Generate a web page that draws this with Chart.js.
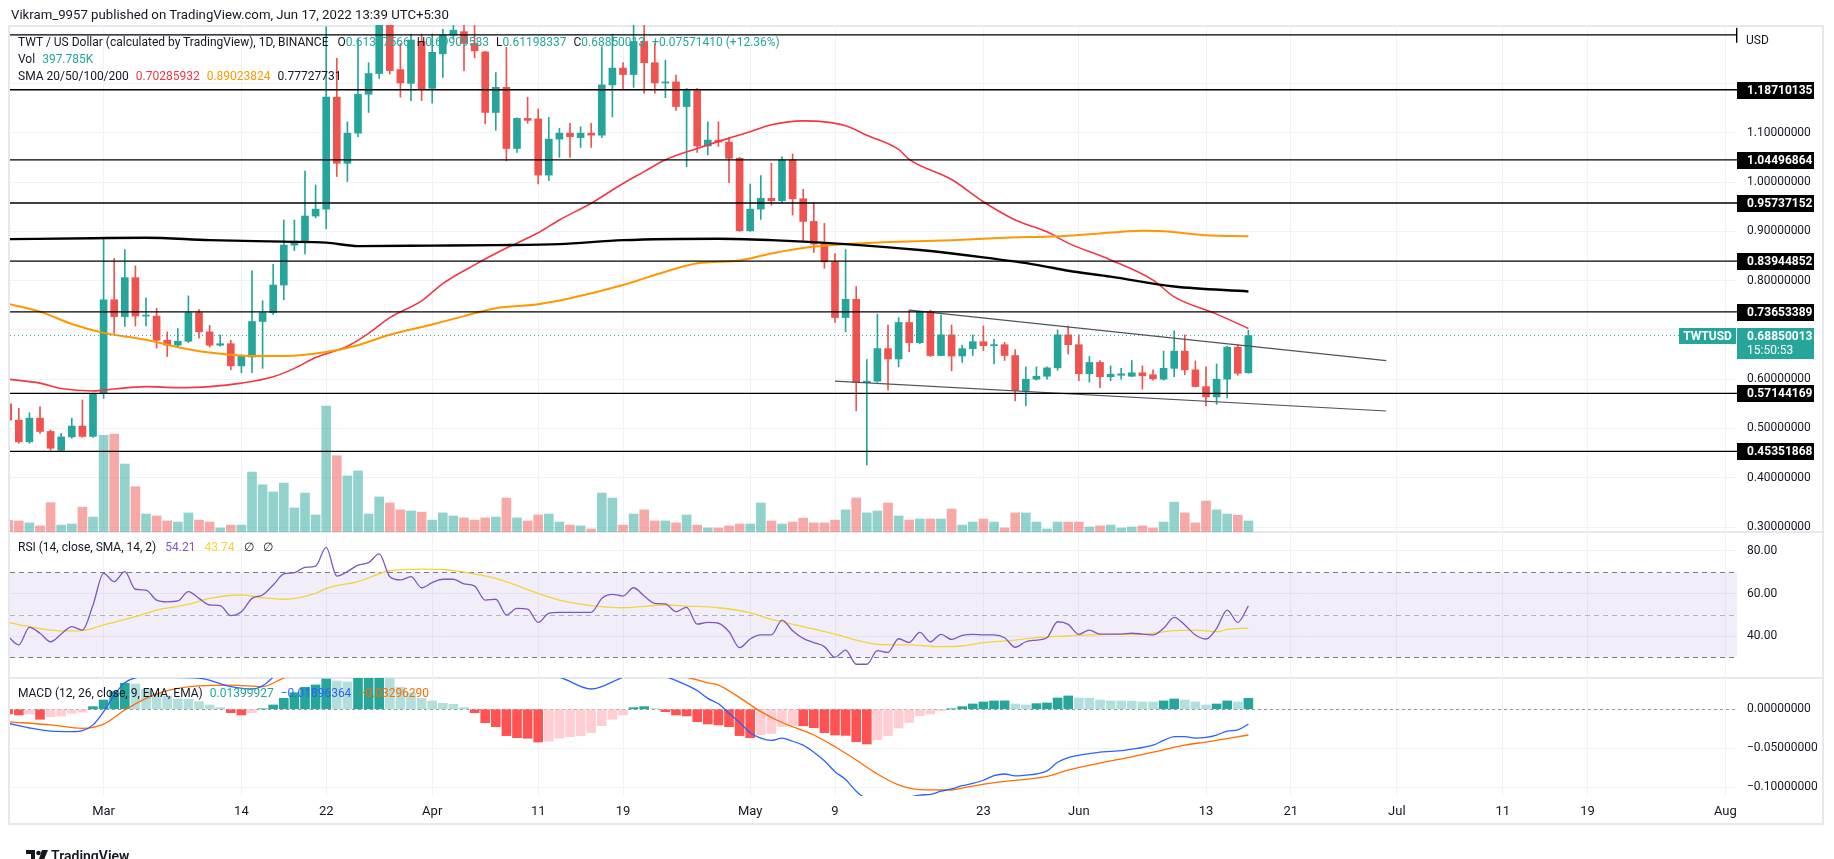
<!DOCTYPE html>
<html>
<head>
<meta charset="utf-8">
<title>TWT / US Dollar</title>
<script src="https://cdn.jsdelivr.net/npm/chart.js@4.4.1/dist/chart.umd.min.js"></script>
<style>
  html, body { margin: 0; padding: 0; background: #fff; }
  #wrap { position: relative; width: 1834px; height: 859px; overflow: hidden; background: #fff;
          font-family: Roboto, "Noto Sans", sans-serif; color: #131722; }
  #wrap canvas { position: absolute; left: 0; top: 0; }
  .txt { position: absolute; white-space: pre; font-size: 12px; line-height: 16px; z-index: 5; }
  .txt span { margin-left: 7px; }
  .txt span.v { margin-left: 0; }
  .rsi span { margin-left: 9px; }
  .frame { position: absolute; left: 8px; top: 25px; width: 1816px; height: 800px;
           border: 2px solid #e6e8ee; box-sizing: border-box; }
  .sep { position: absolute; left: 8px; width: 1816px; height: 2px; background: #e6e8ee; }
  .up { color: #26a69a; }
  .red { color: #f23645; }
  .org { color: #ff9800; }
  .pur { color: #7e57c2; }
  .yel { color: #f2d43c; }
  .blu { color: #2962ff; }
  .ora { color: #ff6d00; }
</style>
</head>
<body>
<div id="wrap">
  <div class="frame"></div>
  <div class="sep" style="top:531px"></div>
  <div class="sep" style="top:677px"></div>
  <canvas id="cPrice" width="1834" height="859"></canvas>
  <canvas id="cRsi" width="1834" height="859"></canvas>
  <canvas id="cMacd" width="1834" height="859"></canvas>

  <div class="txt" style="left:11px; top:7px; font-size:13.2px">Vikram_9957 published on TradingView.com, Jun 17, 2022 13:39 UTC+5:30</div>
  <div class="txt" style="left:18px; top:34px">TWT / US Dollar (calculated by TradingView), 1D, BINANCE<span style="margin-left:9px">O</span><span class="v up">0.61327566</span><span>H</span><span class="v up">0.69909583</span><span>L</span><span class="v up">0.61198337</span><span>C</span><span class="v up">0.68850013</span><span class="up">+0.07571410 (+12.36%)</span></div>
  <div class="txt" style="left:18px; top:51px">Vol<span class="up">397.785K</span></div>
  <div class="txt" style="left:18px; top:68px">SMA 20/50/100/200<span class="red">0.70285932</span><span class="org">0.89023824</span><span>0.77727731</span></div>
  <div class="txt rsi" style="left:18px; top:539px">RSI (14, close, SMA, 14, 2)<span class="pur">54.21</span><span class="yel">43.74</span><span>∅</span><span>∅</span></div>
  <div class="txt" style="left:18px; top:685px">MACD (12, 26, close, 9, EMA, EMA)<span class="up">0.01399927</span><span class="blu">−0.01896364</span><span class="ora">−0.03296290</span></div>
  <div class="txt" style="left:1746px; top:32px">USD</div>
  <div class="txt" style="left:12px; top:832px; font-size:14px; font-weight:600">
    <svg width="22" height="12" style="vertical-align:-1px"><path d="M0 0h9v12H5V4H0z" fill="#131722"/><circle cx="12.5" cy="3" r="2.3" fill="#131722"/><path d="M16 0h6l-5 12h-5z" fill="#131722"/></svg> TradingView</div>
</div>

<script>
// ---- data (day index 0 = 20 Feb 2022, one candle per day up to 17 Jun 2022) ----
const opens = [
  0.550, 0.517, 0.473, 0.521, 0.494, 0.456, 0.483, 0.505, 0.484, 0.571,
  0.761, 0.727, 0.806, 0.728, 0.728, 0.679, 0.669, 0.677, 0.735, 0.696,
  0.669, 0.672, 0.627, 0.645, 0.717, 0.735, 0.791, 0.872, 0.877, 0.931,
  0.945, 1.172, 1.038, 1.099, 1.178, 1.220, 1.330, 1.228, 1.200, 1.285,
  1.190, 1.260, 1.298, 1.305, 1.281, 1.264, 1.141, 1.192, 1.068, 1.129,
  1.128, 1.014, 1.087, 1.099, 1.090, 1.099, 1.095, 1.197, 1.231, 1.218,
  1.285, 1.242, 1.201, 1.203, 1.153, 1.185, 1.073, 1.085, 1.081, 1.048,
  0.901, 0.945, 0.967, 0.962, 1.045, 0.966, 0.920, 0.874, 0.838, 0.725,
  0.762, 0.593, 0.596, 0.662, 0.641, 0.715, 0.674, 0.737, 0.648, 0.690,
  0.647, 0.662, 0.676, 0.668, 0.670, 0.648, 0.577, 0.600, 0.606, 0.623,
  0.690, 0.670, 0.611, 0.634, 0.605, 0.608, 0.606, 0.613, 0.609, 0.600,
  0.622, 0.657, 0.619, 0.585, 0.564, 0.600, 0.665, 0.613
];
const highs = [
  0.560, 0.541, 0.532, 0.544, 0.497, 0.490, 0.521, 0.558, 0.572, 0.886,
  0.845, 0.863, 0.830, 0.765, 0.744, 0.696, 0.703, 0.769, 0.741, 0.709,
  0.690, 0.679, 0.649, 0.820, 0.759, 0.833, 0.923, 0.923, 1.022, 0.994,
  1.315, 1.251, 1.122, 1.291, 1.242, 1.360, 1.360, 1.281, 1.300, 1.300,
  1.300, 1.310, 1.320, 1.320, 1.320, 1.265, 1.222, 1.273, 1.130, 1.172,
  1.148, 1.131, 1.109, 1.119, 1.112, 1.119, 1.274, 1.300, 1.242, 1.320,
  1.320, 1.281, 1.247, 1.217, 1.190, 1.190, 1.122, 1.122, 1.090, 1.050,
  0.996, 1.013, 1.038, 1.051, 1.057, 0.985, 0.958, 0.916, 0.855, 0.863,
  0.788, 0.640, 0.732, 0.710, 0.725, 0.740, 0.738, 0.740, 0.730, 0.710,
  0.669, 0.690, 0.708, 0.681, 0.675, 0.660, 0.625, 0.625, 0.625, 0.700,
  0.708, 0.690, 0.646, 0.638, 0.627, 0.622, 0.638, 0.627, 0.619, 0.657,
  0.698, 0.690, 0.637, 0.625, 0.631, 0.667, 0.670, 0.699
];
const lows = [
  0.500, 0.470, 0.470, 0.490, 0.456, 0.455, 0.480, 0.482, 0.482, 0.561,
  0.693, 0.707, 0.708, 0.708, 0.663, 0.646, 0.666, 0.674, 0.683, 0.665,
  0.667, 0.619, 0.613, 0.613, 0.622, 0.731, 0.761, 0.861, 0.854, 0.927,
  0.905, 1.011, 1.001, 1.092, 1.141, 1.210, 1.219, 1.172, 1.165, 1.165,
  1.160, 1.212, 1.290, 1.226, 1.252, 1.118, 1.105, 1.043, 1.060, 1.119,
  0.996, 1.003, 1.050, 1.050, 1.070, 1.070, 1.090, 1.132, 1.187, 1.192,
  1.180, 1.180, 1.171, 1.145, 1.031, 1.060, 1.055, 1.072, 0.999, 0.900,
  0.900, 0.924, 0.953, 0.958, 0.933, 0.879, 0.857, 0.825, 0.715, 0.696,
  0.536, 0.426, 0.594, 0.578, 0.625, 0.656, 0.672, 0.646, 0.647, 0.617,
  0.634, 0.648, 0.658, 0.631, 0.638, 0.556, 0.546, 0.598, 0.600, 0.618,
  0.651, 0.597, 0.594, 0.583, 0.597, 0.600, 0.605, 0.580, 0.598, 0.598,
  0.605, 0.609, 0.585, 0.546, 0.549, 0.562, 0.608, 0.612
];
const closes = [
  0.517, 0.473, 0.521, 0.494, 0.460, 0.483, 0.505, 0.484, 0.571, 0.761,
  0.727, 0.806, 0.728, 0.730, 0.679, 0.669, 0.677, 0.735, 0.696, 0.669,
  0.672, 0.627, 0.647, 0.717, 0.735, 0.791, 0.872, 0.880, 0.931, 0.945,
  1.172, 1.038, 1.099, 1.178, 1.220, 1.330, 1.226, 1.201, 1.288, 1.189,
  1.263, 1.298, 1.308, 1.281, 1.266, 1.141, 1.192, 1.068, 1.129, 1.125,
  1.014, 1.087, 1.099, 1.092, 1.099, 1.095, 1.197, 1.231, 1.218, 1.285,
  1.242, 1.201, 1.203, 1.153, 1.185, 1.073, 1.085, 1.081, 1.048, 0.901,
  0.945, 0.967, 0.962, 1.045, 0.966, 0.920, 0.874, 0.838, 0.725, 0.762,
  0.593, 0.596, 0.662, 0.641, 0.715, 0.674, 0.737, 0.648, 0.690, 0.647,
  0.662, 0.676, 0.668, 0.670, 0.648, 0.577, 0.600, 0.606, 0.623, 0.690,
  0.670, 0.611, 0.634, 0.605, 0.610, 0.611, 0.613, 0.607, 0.601, 0.622,
  0.657, 0.619, 0.585, 0.564, 0.600, 0.665, 0.612, 0.6885
];
// volume in thousands
const volumes = [
  420, 400, 330, 220, 1060, 250, 290, 900, 540, 3500,
  3540, 2460, 1640, 650, 580, 400, 360, 690, 430, 360,
  145, 250, 250, 2170, 1710, 1450, 1770, 870, 1410, 615,
  4560, 2760, 2030, 2210, 650, 1270, 1050, 800, 760, 720,
  430, 690, 580, 510, 430, 510, 540, 1230, 510, 400,
  615, 650, 360, 250, 220, 110, 1410, 1230, 250, 650,
  800, 400, 400, 330, 615, 250, 145, 145, 220, 290,
  290, 1050, 400, 290, 360, 500, 330, 330, 430, 800,
  1230, 690, 760, 1050, 580, 430, 470, 470, 470, 830,
  250, 360, 470, 360, 145, 690, 690, 360, 110, 360,
  360, 360, 180, 220, 250, 145, 180, 220, 145, 360,
  1080, 690, 330, 1120, 800, 650, 610, 398
];
// moving averages: [day, value]
const sma20 = [
  [0,0.600],[3,0.592],[5,0.581],[8,0.576],[10,0.580],[13,0.585],[16,0.583],[19,0.585],
  [22,0.592],[25,0.605],[27,0.622],[29,0.644],[32,0.667],[34,0.693],[36,0.725],[39,0.759],
  [41,0.794],[44,0.832],[47,0.866],[50,0.897],[52,0.923],[55,0.957],[58,0.997],[60,1.021],
  [62,1.045],[65,1.068],[68,1.089],[70,1.102],[72,1.116],[75,1.124],[77,1.122],[79,1.114],
  [81,1.095],[84,1.066],[85,1.046],[89,1.005],[92,0.960],[95,0.923],[98,0.899],[100,0.876],
  [104,0.842],[108,0.801],[110,0.767],[114,0.732],[117,0.703]
];
const sma100 = [
  [0,0.753],[3,0.737],[6,0.712],[9,0.694],[13,0.680],[16,0.665],[19,0.654],[23,0.647],
  [26,0.647],[30,0.655],[33,0.669],[36,0.690],[40,0.711],[43,0.728],[46,0.744],[50,0.752],
  [53,0.764],[58,0.791],[62,0.818],[65,0.835],[69,0.841],[72,0.855],[76,0.869],[79,0.874],
  [84,0.879],[89,0.882],[94,0.887],[99,0.890],[102,0.894],[107,0.901],[109,0.900],[113,0.892],
  [117,0.890]
];
const sma200 = [
  [0,0.884],[8,0.886],[13,0.887],[19,0.882],[26,0.879],[30,0.877],[33,0.870],[40,0.871],
  [46,0.872],[52,0.874],[58,0.882],[67,0.885],[72,0.882],[79,0.874],[86,0.862],[92,0.847],
  [97,0.832],[100,0.820],[104,0.808],[110,0.788],[117,0.778]
];
const levels = [1.18710135, 1.04496864, 0.95737152, 0.83944852, 0.73653389, 0.57144169, 0.45351868];
const topLevel = 1.2985;
const trendUpper = [[85, 0.740], [130, 0.6375]];
const trendLower = [[78, 0.596], [130, 0.5355]];
const lastPrice = 0.68850013;
const hiddenTicks = [1.2, 1.3, 0.7];

const rsi = [
  39.7, 35.8, 44.1, 41.3, 37.3, 40.9, 44.4, 42.8, 54.6, 69.5,
  65.6, 70.3, 62.0, 61.6, 56.9, 56.1, 56.5, 60.9, 57.7, 54.6,
  54.3, 49.6, 51.4, 57.7, 59.3, 64.0, 69.2, 69.8, 72.3, 72.9,
  81.7, 68.2, 70.3, 73.4, 74.5, 78.6, 67.9, 66.4, 67.9, 62.7,
  65.1, 66.7, 66.7, 64.5, 63.5, 56.9, 57.3, 49.9, 53.0, 52.7,
  46.4, 50.7, 51.1, 51.1, 51.1, 51.1, 57.7, 59.6, 58.8, 62.7,
  58.8, 55.4, 55.1, 51.5, 53.5, 45.6, 46.4, 46.0, 42.0, 34.5,
  38.6, 40.5, 40.5, 47.5, 42.5, 38.9, 36.9, 35.0, 30.0, 33.4,
  26.7, 26.7, 33.1, 32.3, 38.7, 36.9, 41.7, 37.3, 40.8, 38.4,
  40.3, 40.8, 40.5, 40.5, 39.2, 34.7, 37.3, 38.1, 39.2, 46.7,
  45.5, 40.8, 42.8, 40.9, 40.9, 40.9, 41.3, 40.9, 40.5, 43.6,
  48.8, 45.2, 40.5, 38.6, 43.6, 52.2, 46.4, 54.21
];
const rsiMa = [
  [0,46.4],[2,44.4],[4,42.8],[6,42.4],[7,42.5],[9,45.2],[12,49.1],[14,52.2],[17,54.9],
  [19,57.7],[22,59.3],[24,58.0],[26,57.3],[29,60.1],[30,62.4],[33,65.6],[36,70.7],[39,71.5],
  [41,71.3],[43,70.1],[46,67.1],[50,60.1],[52,56.9],[55,54.3],[58,53.3],[62,54.6],[64,54.1],
  [67,53.3],[70,50.9],[72,47.8],[73,46.7],[75,44.4],[78,40.9],[80,38.1],[82,36.1],[85,35.8],
  [88,35.0],[90,35.3],[92,36.9],[95,38.1],[97,39.2],[100,40.0],[102,40.5],[104,40.8],
  [107,40.9],[110,42.5],[112,42.8],[114,42.0],[115,43.1],[117,43.74]
];

const macdHist = [
  -0.0060, -0.0073, -0.0060, -0.0128, -0.0095, -0.0086, -0.0051, -0.0038, 0.0034, 0.0119,
  0.0226, 0.0333, 0.0324, 0.0256, 0.0205, 0.0171, 0.0132, 0.0128, 0.0098, 0.0055,
  0.0021, -0.0044, -0.0073, -0.0044, 0.0004, 0.0055, 0.0141, 0.0213, 0.0282, 0.0312,
  0.0389, 0.0363, 0.0350, 0.0420, 0.0450, 0.0470, 0.0410, 0.0282, 0.0213, 0.0141,
  0.0107, 0.0077, 0.0064, 0.0021, -0.0044, -0.0172, -0.0223, -0.0338, -0.0364, -0.0372,
  -0.0420, -0.0410, -0.0370, -0.0351, -0.0338, -0.0300, -0.0210, -0.0128, -0.0073, 0.0021,
  0.0034, 0.0008, -0.0031, -0.0073, -0.0086, -0.0159, -0.0188, -0.0201, -0.0223, -0.0338,
  -0.0364, -0.0325, -0.0310, -0.0223, -0.0210, -0.0212, -0.0236, -0.0300, -0.0330, -0.0335,
  -0.0415, -0.0445, -0.0390, -0.0338, -0.0240, -0.0170, -0.0082, -0.0060, -0.0020, 0.0004,
  0.0034, 0.0068, 0.0094, 0.0107, 0.0108, 0.0068, 0.0055, 0.0072, 0.0081, 0.0145,
  0.0171, 0.0145, 0.0143, 0.0119, 0.0107, 0.0106, 0.0105, 0.0094, 0.0093, 0.0107,
  0.0132, 0.0119, 0.0094, 0.0055, 0.0068, 0.0107, 0.0094, 0.0140
];
const macdLine = [
  [0,-0.018],[2,-0.024],[4,-0.028],[6,-0.0286],[7,-0.0274],[8,-0.020],[9,-0.003],[10,0.018],
  [11,0.034],[13,0.042],[15,0.041],[18,0.040],[21,0.029],[23,0.026],[24,0.030],[26,0.054],
  [28,0.073],[30,0.090],[32,0.094],[34,0.112],[36,0.116],[38,0.102],[40,0.097],[42,0.095],
  [44,0.087],[46,0.070],[48,0.054],[50,0.044],[52,0.041],[55,0.026],[58,0.041],[60,0.049],
  [62,0.042],[64,0.031],[65,0.024],[66,0.014],[67,0.007],[68,-0.005],[69,-0.017],[70,-0.030],
  [71,-0.037],[72,-0.040],[73,-0.037],[74,-0.041],[75,-0.046],[76,-0.055],[77,-0.066],
  [78,-0.080],[79,-0.090],[80,-0.105],[81,-0.115],[82,-0.120],[84,-0.120],[85,-0.113],
  [86,-0.110],[87,-0.109],[88,-0.105],[89,-0.102],[90,-0.098],[91,-0.095],[92,-0.091],
  [93,-0.085],[94,-0.083],[95,-0.0855],[96,-0.0845],[97,-0.083],[98,-0.079],[99,-0.068],
  [100,-0.062],[101,-0.059],[102,-0.057],[103,-0.055],[104,-0.054],[105,-0.053],[106,-0.051],
  [107,-0.049],[108,-0.046],[109,-0.040],[110,-0.035],[111,-0.035],[112,-0.037],[113,-0.036],
  [114,-0.033],[115,-0.028],[116,-0.0265],[117,-0.019]
];
const signalLine = [
  [0,-0.016],[4,-0.020],[7,-0.0244],[9,-0.019],[11,-0.001],[13,0.014],[15,0.024],[18,0.030],
  [21,0.031],[24,0.029],[26,0.040],[28,0.045],[30,0.051],[32,0.059],[34,0.067],[36,0.075],
  [38,0.081],[40,0.086],[42,0.089],[44,0.091],[46,0.092],[48,0.090],[50,0.086],[52,0.078],
  [55,0.056],[58,0.048],[60,0.046],[62,0.045],[64,0.041],[66,0.034],[67,0.031],[69,0.015],
  [71,-0.003],[73,-0.017],[76,-0.033],[78,-0.048],[80,-0.065],[82,-0.083],[84,-0.097],
  [86,-0.103],[89,-0.1035],[90,-0.101],[93,-0.094],[98,-0.086],[100,-0.078],[103,-0.069],
  [106,-0.061],[109,-0.052],[111,-0.046],[113,-0.042],[117,-0.033]
];

const tickDays = [9, 22, 30, 40, 50, 58, 70, 78, 92, 101, 113, 121, 131, 141, 149, 162];
const tickText = ['Mar', '14', '22', 'Apr', '11', '19', 'May', '9', '23', 'Jun', '13', '21', 'Jul', '11', '19', 'Aug'];

// ---- layout / style ----
const FONT = 'Roboto, "Noto Sans", sans-serif';
const TEXT = '#131722';
const GRID = '#f0f2f6';
const UP = '#26a69a', DN = '#ef5350';
const PLOT_L = 10, PLOT_R = 1737, DAY0_PX = 8.2, PX_PER_DAY = 10.6;
const AXIS_W = 1834 - PLOT_R;
const X_MIN = (PLOT_L - DAY0_PX) / PX_PER_DAY;
const X_MAX = (PLOT_R - DAY0_PX) / PX_PER_DAY;

const pts = arr => arr.map(([x, y]) => ({ x, y }));
const isUp = i => closes[i] >= opens[i];
const fmt8 = v => v.toFixed(8).replace('-', '−');

function xAxis(showLabels) {
  return {
    type: 'linear', min: X_MIN, max: X_MAX, offset: false,
    grid: { color: GRID, drawTicks: false, offset: false },
    border: { display: false },
    ticks: {
      display: showLabels, autoSkip: false, maxRotation: 0, padding: 8,
      color: TEXT, font: { family: FONT, size: 13 },
      callback: (v, i) => tickText[i]
    },
    afterBuildTicks: s => { s.ticks = tickDays.map(v => ({ value: v })); },
    afterFit: s => { s.height = showLabels ? 28 : 0; s.paddingLeft = 0; s.paddingRight = 0; }
  };
}
function yAxis(min, max, step, cb) {
  return {
    position: 'right', min, max,
    grid: { color: GRID, drawTicks: false },
    border: { display: false },
    ticks: { stepSize: step, includeBounds: false, padding: 10, color: TEXT,
             font: { family: FONT, size: 12 }, callback: cb },
    afterFit: s => { s.width = AXIS_W; s.paddingTop = 0; s.paddingBottom = 0; }
  };
}
function lineDs(data, color, width, order, extra) {
  return Object.assign({ type: 'line', data: pts(data), borderColor: color, borderWidth: width,
    pointRadius: 0, tension: 0.35, cubicInterpolationMode: 'monotone', clip: 0, order }, extra || {});
}
const common = { responsive: false, animation: false, events: [],
  plugins: { legend: { display: false }, tooltip: { enabled: false } } };

// ---- price pane ----
const priceTags = {
  id: 'priceTags',
  afterDraw(chart) {
    const { ctx, chartArea: a, scales: { y } } = chart;
    ctx.save();
    ctx.textBaseline = 'middle';
    ctx.font = 'bold 12px ' + FONT;
    levels.forEach(v => {
      const py = Math.round(y.getPixelForValue(v));
      ctx.fillStyle = '#000';
      ctx.fillRect(a.right, py - 8, 77, 17);
      ctx.fillStyle = '#fff';
      ctx.fillText(v.toFixed(8), a.right + 10, py + 1);
    });
    const ty = y.getPixelForValue(topLevel);
    ctx.fillStyle = '#000';
    ctx.fillRect(a.right - 1, ty - 7, 1.4, 15);
    const lp = Math.round(y.getPixelForValue(lastPrice));
    ctx.fillStyle = UP;
    ctx.fillRect(a.right, lp - 8, 77, 31);
    ctx.fillRect(a.right - 58, lp - 8, 57, 16);
    ctx.fillStyle = '#fff';
    ctx.fillText(lastPrice.toFixed(8), a.right + 10, lp + 1);
    ctx.font = '12px ' + FONT;
    ctx.fillText('15:50:53', a.right + 10, lp + 15);
    ctx.font = 'bold 12px ' + FONT;
    ctx.textAlign = 'center';
    ctx.fillText('TWTUSD', a.right - 29.5, lp + 1);
    ctx.restore();
  }
};

const priceDatasets = [
  { type: 'bar', yAxisID: 'yVol', grouped: false, barThickness: 9, order: 20,
    data: volumes.map((v, i) => ({ x: i, y: v })),
    backgroundColor: volumes.map((v, i) => isUp(i) ? 'rgba(38,166,154,0.5)' : 'rgba(239,83,80,0.5)') },
  { type: 'bar', grouped: false, barThickness: 1, order: 6, clip: 0,
    data: lows.map((l, i) => ({ x: i, y: [l, highs[i]] })),
    backgroundColor: lows.map((l, i) => isUp(i) ? UP : DN) },
  { type: 'bar', grouped: false, barThickness: 7, minBarLength: 1, order: 5, clip: 0,
    data: opens.map((o, i) => ({ x: i, y: [o, closes[i]] })),
    backgroundColor: opens.map((o, i) => isUp(i) ? UP : DN) },
  lineDs(sma200, '#000000', 2.4, 4),
  lineDs(sma100, '#ff9800', 2, 4),
  lineDs(sma20, '#f23645', 1.6, 4),
  lineDs(trendUpper, '#50535e', 1.2, 2, { tension: 0 }),
  lineDs(trendLower, '#50535e', 1.2, 2, { tension: 0 }),
  lineDs([[X_MIN, lastPrice], [X_MAX, lastPrice]], UP, 1, 3, { tension: 0, borderDash: [1, 3] })
].concat(levels.concat([topLevel]).map(l =>
  lineDs([[X_MIN, l], [X_MAX, l]], '#000000', 1.3, 1, { tension: 0 })));

new Chart(document.getElementById('cPrice'), {
  type: 'bar',
  data: { datasets: priceDatasets },
  options: Object.assign({}, common, {
    layout: { padding: { left: PLOT_L, top: 25, right: 0, bottom: 859 - 532 } },
    scales: {
      x: xAxis(false),
      y: yAxis(0.29006, 1.31846, 0.1,
        v => (hiddenTicks.some(h => Math.abs(h - v) < 1e-6) ? '' : v.toFixed(8))),
      yVol: { display: false, min: 0, max: 18350 }
    }
  }),
  plugins: [priceTags]
});

// ---- RSI pane ----
const rsiBand = {
  id: 'rsiBand',
  beforeDatasetsDraw(chart) {
    const { ctx, chartArea: a, scales: { y } } = chart;
    const t = y.getPixelForValue(70), b = y.getPixelForValue(30), m = y.getPixelForValue(50);
    ctx.save();
    ctx.fillStyle = 'rgba(126,87,194,0.1)';
    ctx.fillRect(a.left, t, a.right - a.left, b - t);
    ctx.lineWidth = 1;
    ctx.setLineDash([5, 4]);
    ctx.strokeStyle = '#787b86';
    [t, b].forEach(py => {
      ctx.beginPath(); ctx.moveTo(a.left, Math.round(py) + 0.5); ctx.lineTo(a.right, Math.round(py) + 0.5); ctx.stroke();
    });
    ctx.strokeStyle = 'rgba(120,123,134,0.5)';
    ctx.beginPath(); ctx.moveTo(a.left, Math.round(m) + 0.5); ctx.lineTo(a.right, Math.round(m) + 0.5); ctx.stroke();
    ctx.restore();
  }
};

new Chart(document.getElementById('cRsi'), {
  type: 'line',
  data: { datasets: [
    lineDs(rsi.map((v, i) => [i, v]), '#7e57c2', 1.3, 1, { tension: 0 }),
    lineDs(rsiMa, '#f2d43c', 1.3, 2)
  ] },
  options: Object.assign({}, common, {
    layout: { padding: { left: PLOT_L, top: 532, right: 0, bottom: 859 - 678 } },
    scales: {
      x: xAxis(false),
      y: yAxis(20.24, 88.94, 20, v => v.toFixed(2))
    }
  }),
  plugins: [rsiBand]
});

// ---- MACD pane ----
const zeroLine = {
  id: 'zeroLine',
  beforeDatasetsDraw(chart) {
    const { ctx, chartArea: a, scales: { y } } = chart;
    const py = Math.round(y.getPixelForValue(0)) + 0.5;
    ctx.save();
    ctx.setLineDash([3, 3]);
    ctx.strokeStyle = '#9598a1';
    ctx.lineWidth = 1;
    ctx.beginPath(); ctx.moveTo(a.left, py); ctx.lineTo(a.right, py); ctx.stroke();
    ctx.restore();
  }
};
const histColor = macdHist.map((v, i) => {
  const prev = i > 0 ? macdHist[i - 1] : (v >= 0 ? -Infinity : Infinity);
  if (v >= 0) return v >= prev ? '#26a69a' : '#b2dfdb';
  return v < prev ? '#ff5252' : '#ffcdd2';
});

new Chart(document.getElementById('cMacd'), {
  type: 'bar',
  data: { datasets: [
    { type: 'bar', grouped: false, barThickness: 9, order: 3, clip: 0,
      data: macdHist.map((v, i) => ({ x: i, y: v })), backgroundColor: histColor },
    lineDs(signalLine, '#ff6d00', 1.3, 2),
    lineDs(macdLine, '#2962ff', 1.3, 1)
  ] },
  options: Object.assign({}, common, {
    layout: { padding: { left: PLOT_L, top: 678, right: 0, bottom: 859 - 796 - 28 } },
    scales: {
      x: xAxis(true),
      y: yAxis(-0.1112, 0.0401, 0.05, v => fmt8(v))
    }
  }),
  plugins: [zeroLine]
});
</script>
</body>
</html>
